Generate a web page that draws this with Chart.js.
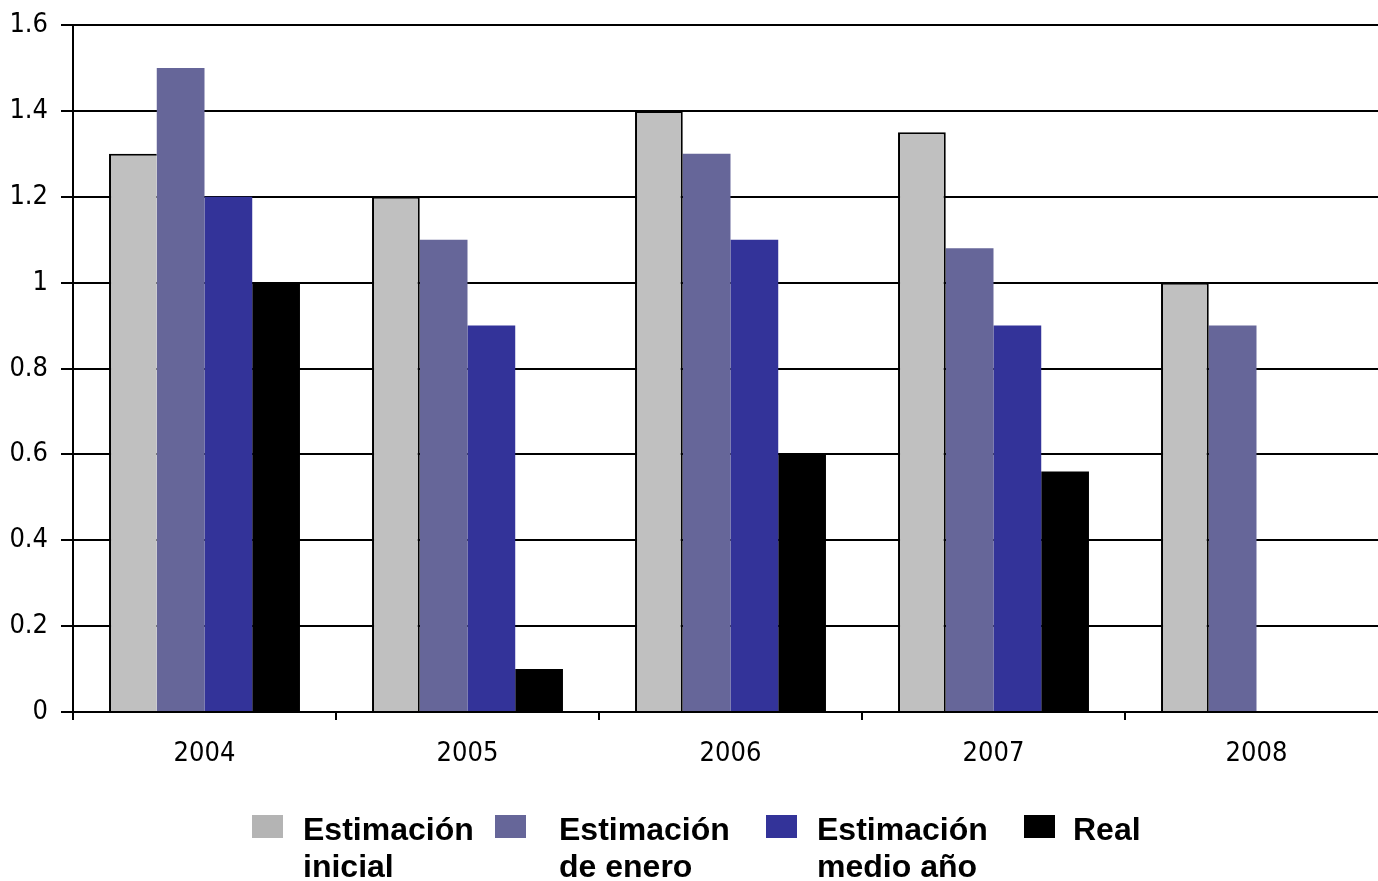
<!DOCTYPE html>
<html>
<head>
<meta charset="utf-8">
<script src="https://cdn.jsdelivr.net/npm/chart.js@4.4.0/dist/chart.umd.min.js"></script>
<style>
  html, body { margin: 0; padding: 0; background: #fff; overflow: hidden; width: 1378px; height: 881px; }
  #wrap { position: absolute; left: 0; top: 0; width: 1400px; height: 790px; }
  #legend { position: absolute; left: 0; top: 0; width: 1378px; height: 881px; pointer-events: none; }
  .sw { position: absolute; width: 31px; height: 23px; }
  .lt { position: absolute; font: bold 32px/37px 'Liberation Sans', Arial, sans-serif; color: #000; white-space: nowrap; }
</style>
</head>
<body>
<div id="wrap"><canvas id="c"></canvas></div>
<div id="legend"></div>
<script>
// Years on the category axis
const years = ['2004', '2005', '2006', '2007', '2008'];

// Series names (two lines each in the legend)
const seriesNames = [
  ['Estimación', 'inicial'],
  ['Estimación', 'de enero'],
  ['Estimación', 'medio año'],
  ['Real']
];

// Series values
const estimacionInicial = [1.3, 1.2, 1.4, 1.35, 1.0];
const estimacionEnero   = [1.5, 1.1, 1.3, 1.08, 0.9];
const estimacionMedio   = [1.2, 0.9, 1.1, 0.9, null];
const real              = [1.0, 0.1, 0.6, 0.56, null];

// Value-axis ticks
const yTicks = [0, 0.2, 0.4, 0.6, 0.8, 1, 1.2, 1.4, 1.6];

const seriesColors = ['#C0C0C0', '#666699', '#333399', '#000000'];
const legendSwatch = ['#B4B4B4', '#666699', '#333399', '#000000'];

const tickFont = { family: "'Liberation Sans Narrow', 'DejaVu Sans Condensed', sans-serif", size: 27 };

// Right edge of the grey bar is only outlined where it rises above its neighbour
const greyRightBorder = ctx => {
  const i = ctx.dataIndex;
  return (estimacionEnero[i] != null && estimacionEnero[i] >= estimacionInicial[i]) ? 0 : 2;
};

const chart = new Chart(document.getElementById('c'), {
  type: 'bar',
  data: {
    labels: years,
    datasets: [
      { label: seriesNames[0].join(' '), data: estimacionInicial, backgroundColor: seriesColors[0],
        borderColor: '#000',
        borderWidth: ctx => ({ top: 2, left: 2, right: greyRightBorder(ctx), bottom: 0 }) },
      { label: seriesNames[1].join(' '), data: estimacionEnero, backgroundColor: seriesColors[1], borderWidth: 0 },
      { label: seriesNames[2].join(' '), data: estimacionMedio, backgroundColor: seriesColors[2], borderWidth: 0 },
      { label: seriesNames[3].join(' '), data: real, backgroundColor: seriesColors[3], borderWidth: 0 }
    ]
  },
  options: {
    responsive: true,
    maintainAspectRatio: false,
    animation: false,
    devicePixelRatio: 1,
    layout: { padding: { top: 25, right: 12, left: 0, bottom: 0 } },
    datasets: { bar: { categoryPercentage: 0.726, barPercentage: 1.0 } },
    plugins: { legend: { display: false }, tooltip: { enabled: false } },
    scales: {
      x: {
        afterFit: s => { s.height = 78; s.paddingLeft = 0; s.paddingRight = 0; },
        grid: { drawOnChartArea: false, drawTicks: true, tickLength: 8, color: '#000', lineWidth: 2 },
        border: { display: true, color: '#000', width: 2 },
        ticks: { color: '#000', font: tickFont, padding: 18, maxRotation: 0 }
      },
      y: {
        min: 0,
        max: 1.6,
        afterFit: s => { s.width = 73; s.paddingTop = 0; s.paddingBottom = 0; },
        afterBuildTicks: s => { s.ticks = yTicks.map(v => ({ value: v })); },
        grid: { color: '#000', lineWidth: 2, drawTicks: true, tickLength: 12 },
        border: { display: true, color: '#000', width: 2 },
        ticks: { color: '#000', font: tickFont, padding: 13,
                 callback: v => String(v) }
      }
    }
  }
});

// Legend drawn as HTML from the chart's datasets
const legendSwatchX = [252, 495, 766, 1024];
const legendTextX = [303, 559, 817, 1073];
const legendEl = document.getElementById('legend');
chart.data.datasets.forEach((ds, i) => {
  const sw = document.createElement('div');
  sw.className = 'sw';
  sw.style.left = legendSwatchX[i] + 'px';
  sw.style.top = '815px';
  sw.style.background = legendSwatch[i];
  legendEl.appendChild(sw);
  const t = document.createElement('div');
  t.className = 'lt';
  t.style.left = legendTextX[i] + 'px';
  t.style.top = '811px';
  t.innerHTML = seriesNames[i].join('<br>');
  legendEl.appendChild(t);
});
</script>
</body>
</html>
